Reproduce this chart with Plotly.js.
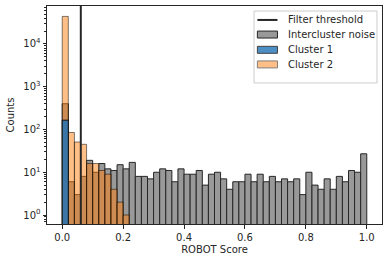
<!DOCTYPE html>
<html>
<head>
<meta charset="utf-8">
<script src="https://cdn.plot.ly/plotly-3.0.1.min.js"></script>
<style>html,body{margin:0;padding:0;background:#fff;}#chart{width:389px;height:262px;}</style>
</head>
<body>
<div id="chart"></div>
<script>
// Histogram bins: 50 bins of width 0.02 from 0 to 1
const binStart = 0.0;
const binWidth = 0.02;
const threshold = 0.061;

const noiseCounts = [400, 6, 3, 8, 19, 10, 16, 12, 11, 15,
                     12, 17, 8, 8, 7, 10, 12, 11, 6, 12,
                     9, 9, 11, 5, 9, 10, 7, 4, 6, 6,
                     9, 6, 9, 6, 8, 6, 7, 6, 7, 3,
                     10, 5, 4, 7, 4, 8, 6, 11, 10, 27];
const cluster1Counts = [165];
const cluster2Counts = [44000, 85, 51, 45, 16, 16, 11, 9, 4, 2, 1];

const seriesNames = ['Filter threshold', 'Intercluster noise', 'Cluster 1', 'Cluster 2'];
const xTickVals = [0.0, 0.2, 0.4, 0.6, 0.8, 1.0];
const yTickVals = [1, 10, 100, 1000, 10000];
const yTickText = ['10<sup>0</sup>', '10<sup>1</sup>', '10<sup>2</sup>', '10<sup>3</sup>', '10<sup>4</sup>'];

const colNoise = '#999999', lineNoise = '#262626';
const colC1 = '#3b76a6', lineC1 = '#111111';
const colC2 = 'rgba(255,127,14,0.5)', lineC2 = 'rgba(0,0,0,0.5)';
const legendPatchC2 = '#ffbf86', legendLineC2 = '#7f7f7f';

function centers(arr) { return arr.map((_, i) => binStart + binWidth * (i + 0.5)); }
function clean(arr) { return arr.map(v => v > 0 ? v : null); }

const minorVals = [];
for (let d = 0; d < 5; d++) for (let m = 2; m <= 9; m++) minorVals.push(m * Math.pow(10, d - 1));
for (let m = 2; m <= 9; m++) minorVals.push(m * 10000);

const font = {family: 'DejaVu Sans, sans-serif', size: 10, color: '#262626'};

const traces = [
  {type: 'bar', name: seriesNames[1], x: centers(noiseCounts), y: clean(noiseCounts), width: binWidth,
   marker: {color: colNoise, line: {color: lineNoise, width: 1}}},
  {type: 'bar', name: seriesNames[3], x: centers(cluster2Counts), y: clean(cluster2Counts), width: binWidth,
   marker: {color: colC2, line: {color: lineC2, width: 1}}},
  {type: 'bar', name: seriesNames[2], x: centers(cluster1Counts), y: clean(cluster1Counts), width: binWidth,
   marker: {color: colC1, line: {color: lineC1, width: 1}}}
];

// Custom matplotlib-style legend (paper coordinates)
const lgX0 = 0.618, lgX1 = 0.985, lgY0 = 0.647, lgY1 = 0.977;
const symX0 = 0.628, symX1 = 0.688, txtX = 0.713;
const rowY = [0.936, 0.869, 0.799, 0.732];
const patchH = 0.016;

const shapes = [
  {type: 'line', xref: 'x', yref: 'paper', x0: threshold, x1: threshold, y0: 0, y1: 1,
   line: {color: '#262626', width: 2}},
  {type: 'rect', xref: 'paper', yref: 'paper', x0: lgX0, x1: lgX1, y0: lgY0, y1: lgY1,
   fillcolor: 'rgba(255,255,255,0.8)', line: {color: '#cccccc', width: 1}},
  {type: 'line', xref: 'paper', yref: 'paper', x0: symX0, x1: symX1, y0: rowY[0], y1: rowY[0],
   line: {color: '#262626', width: 2}},
  {type: 'rect', xref: 'paper', yref: 'paper', x0: symX0, x1: symX1, y0: rowY[1] - patchH, y1: rowY[1] + patchH,
   fillcolor: colNoise, line: {color: lineNoise, width: 1}},
  {type: 'rect', xref: 'paper', yref: 'paper', x0: symX0, x1: symX1, y0: rowY[2] - patchH, y1: rowY[2] + patchH,
   fillcolor: '#4b8fc4', line: {color: '#404040', width: 1}},
  {type: 'rect', xref: 'paper', yref: 'paper', x0: symX0, x1: symX1, y0: rowY[3] - patchH, y1: rowY[3] + patchH,
   fillcolor: legendPatchC2, line: {color: legendLineC2, width: 1}}
];

const annotations = seriesNames.map((name, i) => ({
  xref: 'paper', yref: 'paper', x: txtX, y: rowY[i], xanchor: 'left', yanchor: 'middle',
  text: name, showarrow: false, font: font
}));

const layout = {
  width: 389, height: 262,
  margin: {l: 47, r: 7, t: 6, b: 38},
  paper_bgcolor: '#fff', plot_bgcolor: '#fff',
  barmode: 'overlay', bargap: 0,
  font: font,
  showlegend: false,
  xaxis: {range: [-0.05, 1.05], tickvals: xTickVals, ticktext: xTickVals.map(v => v.toFixed(1)),
          showgrid: false, zeroline: false, showline: true, mirror: true, linecolor: '#262626', linewidth: 1,
          ticks: 'outside', ticklen: 3.5, tickcolor: '#262626', tickfont: font,
          title: {text: 'ROBOT Score', font: font, standoff: 4}},
  yaxis: {type: 'log', range: [-0.21, 4.887], tickmode: 'array', tickvals: yTickVals, ticktext: yTickText,
          showgrid: false, zeroline: false, showline: true, mirror: true, linecolor: '#262626', linewidth: 1,
          ticks: 'outside', ticklen: 3.5, tickcolor: '#262626', tickfont: font,
          minor: {tickmode: 'array', tickvals: minorVals, ticks: 'outside', ticklen: 2, tickcolor: '#262626', showgrid: false},
          title: {text: 'Counts', font: font, standoff: 6}},
  shapes: shapes,
  annotations: annotations
};

Plotly.newPlot('chart', traces, layout, {displayModeBar: false, staticPlot: true});
</script>
</body>
</html>
